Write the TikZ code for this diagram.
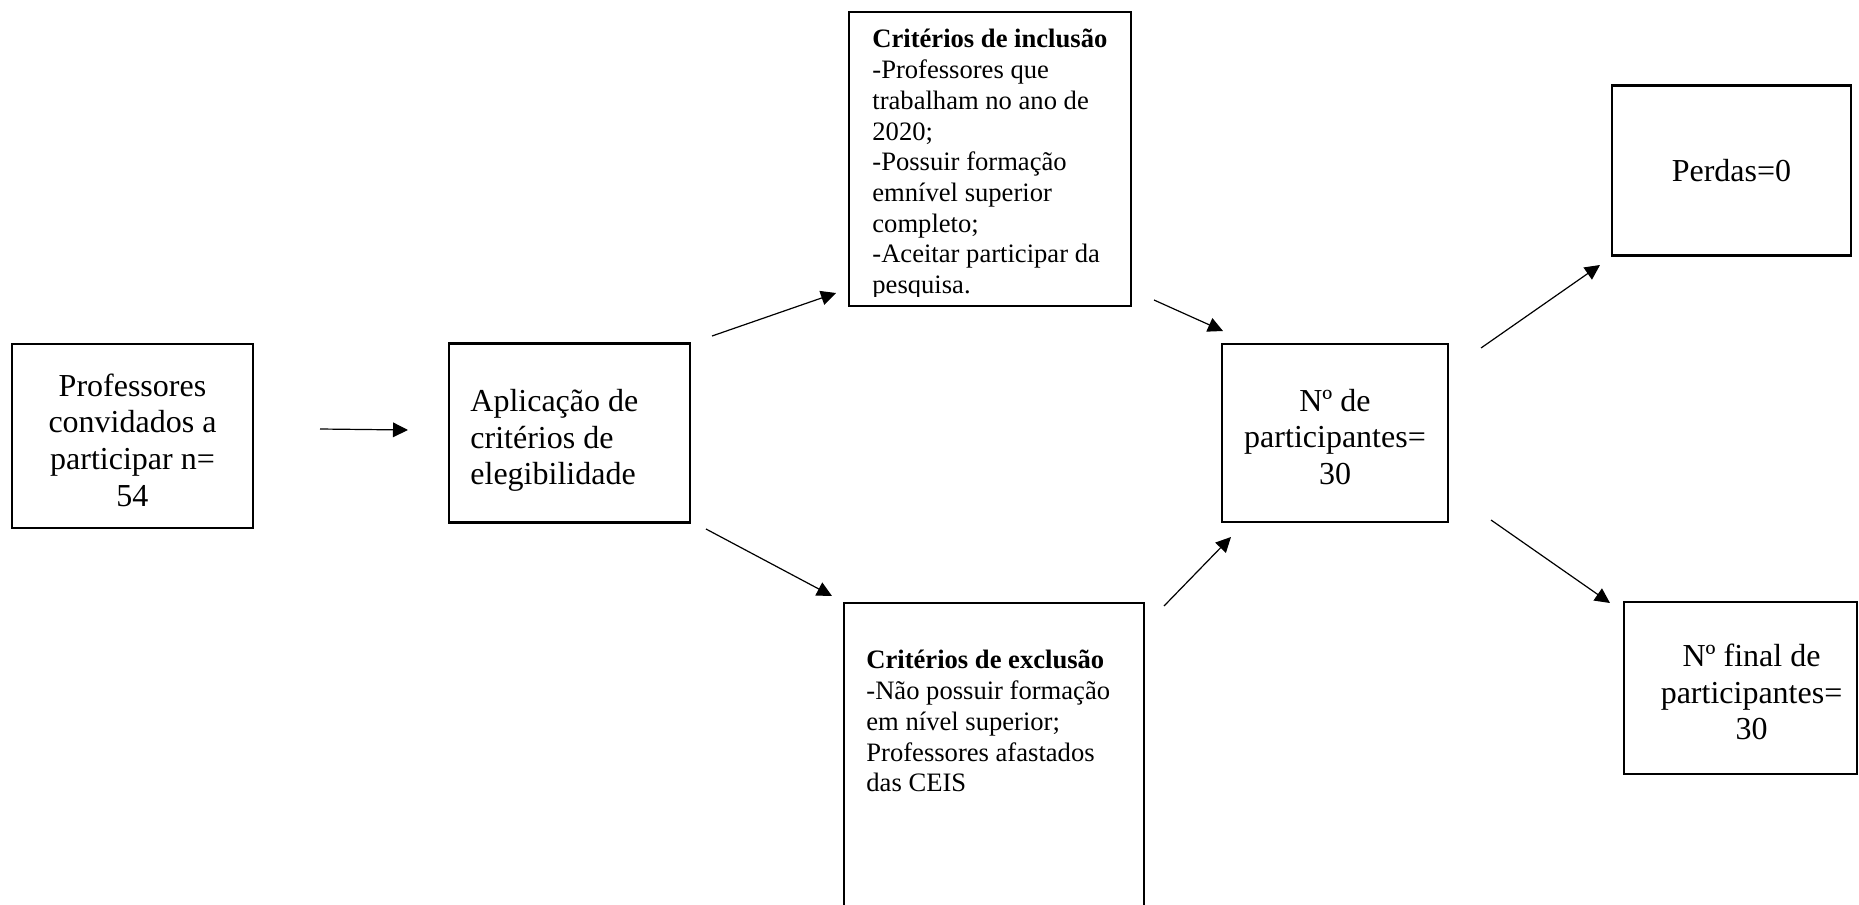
\documentclass[tikz,border=0pt]{standalone}
\usepackage{fontspec}
\setmainfont{Liberation Serif}
\usetikzlibrary{arrows.meta}
\begin{document}
\begin{tikzpicture}[x=0.5pt,y=-0.5pt,
  box/.style={draw,line width=1.2pt,inner sep=0pt},
  big/.style={font=\fontsize{16}{18.35}\selectfont,align=center,inner sep=0pt},
  bigl/.style={font=\fontsize{16}{18.35}\selectfont,align=left,inner sep=0pt},
  small/.style={font=\fontsize{13.3}{15.35}\selectfont,align=left,inner sep=0pt},
  arr/.style={line width=0.6pt,-{Triangle[length=7.5pt,width=7.3pt]}}]
\useasboundingbox (0,0) rectangle (1859,905);

% boxes
\node[box,minimum width=120.5pt,minimum height=92pt] (prof) at (132.5,436) {};
\node[big] (proftxt) at (132.5,440) {Professores\\convidados a\\participar n=\\54};
\node[box,minimum width=120.5pt,minimum height=89.5pt] (apl) at (569.5,433) {};
\node[bigl,anchor=west] (apltxt) at (470,440.5) {Aplicação de\\critérios de\\elegibilidade};
\node[box,minimum width=141pt,minimum height=147pt] (incl) at (990,159) {};
\begin{scope}
  \clip (849,12) rectangle (1131,296);
  \node[small,anchor=north west] (incltxt) at (872,29)
    {\textbf{Critérios de inclusão}\\-Professores que\\trabalham no ano de\\2020;\\-Possuir formação\\emnível superior\\completo;\\-Aceitar participar da\\pesquisa.};
\end{scope}
\node[box,minimum width=150pt,minimum height=163.5pt] (excl) at (994,766.5) {};
\node[small,anchor=north west] (excltxt) at (866,650)
  {\textbf{Critérios de exclusão}\\-Não possuir formação\\em nível superior;\\Professores afastados\\das CEIS};
\node[box,minimum width=113pt,minimum height=89pt] (npart) at (1335,433) {};
\node[big] (nparttxt) at (1335,437) {Nº de\\participantes=\\30};
\node[box,big,minimum width=119.5pt,minimum height=85pt] (perdas) at (1731.5,170.5)
  {Perdas=0};
\node[box,minimum width=116.5pt,minimum height=86pt] (final) at (1740.5,688) {};
\node[big] (finaltxt) at (1751.5,692) {Nº final de\\participantes=\\30};

% arrow end points
\coordinate (a1s) at (320,429);  \coordinate (a1e) at (408,430);
\coordinate (a2s) at (712,336);  \coordinate (a2e) at (836,293);
\coordinate (a3s) at (706,529);  \coordinate (a3e) at (832,596);
\coordinate (a4s) at (1154,300); \coordinate (a4e) at (1223,331);
\coordinate (a5s) at (1164,606); \coordinate (a5e) at (1231,537);
\coordinate (a6s) at (1481,348); \coordinate (a6e) at (1600,265);
\coordinate (a7s) at (1491,520); \coordinate (a7e) at (1610,603);

\draw[arr] (a1s) -- (a1e);
\draw[arr] (a2s) -- (a2e);
\draw[arr] (a3s) -- (a3e);
\draw[arr] (a4s) -- (a4e);
\draw[arr] (a5s) -- (a5e);
\draw[arr] (a6s) -- (a6e);
\draw[arr] (a7s) -- (a7e);
\end{tikzpicture}
\end{document}
